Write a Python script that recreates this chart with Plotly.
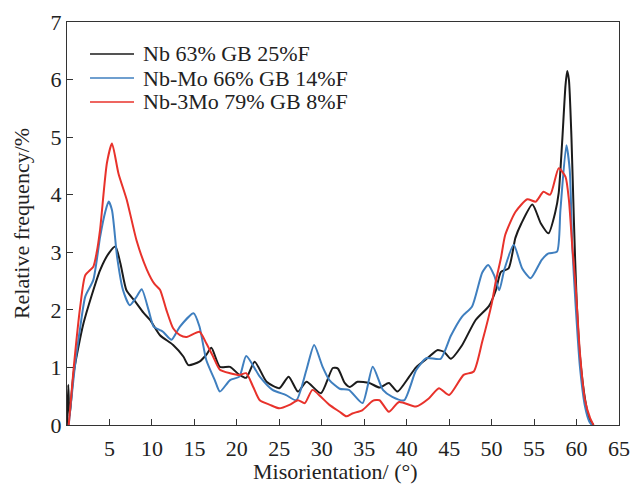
import plotly.graph_objects as go

# ---- data ----
nb_x = [0, 0.15, 0.3, 0.78, 1.95, 3.9, 5.0, 5.7, 6.3, 7.0, 8.0, 9.0, 9.8, 10.95, 12.5, 13.7, 14.3,
        15.6, 16.4, 17.0, 18.0, 19.2, 20.3, 21.1, 22.1, 23.5, 25.0, 26.1, 27.2, 28.2, 29.9, 31.3,
        31.9, 32.7, 33.3, 34.2, 35.6, 36.8, 37.9, 38.9, 40.3, 41.1, 42.6, 43.6, 44.4, 45.2, 46.5,
        48.1, 49.7, 50.5, 51.1, 52.0, 52.8, 53.5, 54.8, 55.8, 56.7, 57.5, 57.9, 58.3, 58.7, 58.9,
        59.1, 59.4, 59.7, 60.0, 60.4, 61.0, 61.5, 62.0]
nb_y = [0, 0.7, 0.15, 0.9, 1.77, 2.69, 3.0, 3.1, 2.8, 2.34, 2.15, 1.95, 1.82, 1.56, 1.39, 1.19, 1.04,
        1.10, 1.22, 1.34, 1.01, 1.01, 0.87, 0.82, 1.10, 0.75, 0.64, 0.84, 0.58, 0.75, 0.55, 0.99,
        0.98, 0.73, 0.66, 0.75, 0.73, 0.65, 0.73, 0.58, 0.84, 1.0, 1.18, 1.30, 1.27, 1.15, 1.38,
        1.82, 2.07, 2.34, 2.66, 2.72, 3.25, 3.5, 3.83, 3.5, 3.33, 3.7, 4.03, 4.9, 5.9, 6.15,
        6.0, 5.0, 3.5, 2.2, 1.2, 0.45, 0.1, 0]

nbmo_x = [0.2, 0.97, 1.56, 2.15, 3.1, 3.9, 4.5, 4.9, 5.3, 5.9, 6.6, 7.4, 8.2, 8.8, 9.6, 10.2, 10.95,
          11.3, 12.3, 13.3, 14.9, 15.6, 16.4, 17.4, 18.0, 19.2, 20.3, 21.1, 22.7, 24.2, 25.8, 27.0,
          28.2, 29.1, 30.1, 30.9, 32.1, 33.2, 34.8, 36.0, 37.2, 38.3, 39.7, 41.1, 42.3, 44.0, 45.2,
          46.5, 47.7, 48.9, 49.6, 50.3, 50.9, 51.5, 52.6, 53.6, 54.6, 55.9, 56.7, 57.7, 58.1, 58.8,
          59.2, 59.5, 59.9, 60.4, 61.0, 61.5, 61.8]
nbmo_y = [0, 1.07, 1.7, 2.23, 2.52, 3.27, 3.7, 3.88, 3.73, 2.92, 2.34, 2.08, 2.23, 2.36, 2.0, 1.71, 1.65,
          1.62, 1.48, 1.71, 1.94, 1.71, 1.13, 0.78, 0.58, 0.78, 0.84, 1.2, 0.84, 0.61, 0.52, 0.43,
          0.96, 1.39, 1.01, 0.78, 0.63, 0.61, 0.38, 1.01, 0.61, 0.49, 0.43, 0.95, 1.16, 1.15, 1.55,
          1.88, 2.06, 2.65, 2.78, 2.6, 2.34, 2.7, 3.13, 2.72, 2.55, 2.87, 2.98, 3.01, 3.73, 4.86,
          4.43, 3.1, 2.06, 1.01, 0.32, 0.06, 0]

nb3mo_x = [0.2, 0.78, 1.56, 2.15, 3.1, 3.5, 3.9, 4.7, 5.3, 6.06, 7.04, 8.2, 9.4, 10.3, 10.95, 11.7,
           12.5, 13.3, 14.1, 15.6, 16.4, 17.2, 18.0, 19.2, 20.3, 21.1, 21.9, 22.7, 23.9, 25.0, 26.2,
           27.2, 28.0, 28.9, 29.9, 30.9, 32.1, 32.9, 33.6, 34.8, 36.0, 36.8, 37.9, 39.1, 41.1, 42.6,
           43.8, 45.0, 46.7, 47.9, 48.9, 50.0, 50.5, 51.1, 51.6, 52.8, 54.2, 55.2, 56.1, 56.9, 57.9,
           58.7, 59.1, 59.5, 59.9, 60.4, 61.0, 61.6, 62.0]
nb3mo_y = [0, 0.98, 2.06, 2.6, 2.75, 3.0, 3.4, 4.55, 4.89, 4.37, 3.91, 3.2, 2.7, 2.45, 2.35, 2.0,
           1.68, 1.56, 1.53, 1.62, 1.42, 1.19, 0.96, 0.90, 0.87, 0.9, 0.67, 0.43, 0.35, 0.29, 0.35,
           0.43, 0.38, 0.61, 0.49, 0.35, 0.23, 0.15, 0.2, 0.26, 0.42, 0.43, 0.23, 0.40, 0.32, 0.46,
           0.64, 0.52, 0.87, 0.93, 1.45, 2.1, 2.5, 2.9, 3.3, 3.7, 3.92, 3.88, 4.05, 4.0, 4.46,
           4.31, 3.91, 3.1, 2.4, 1.25, 0.43, 0.12, 0]

series_names = ["Nb 63% GB 25%F", "Nb-Mo 66% GB 14%F", "Nb-3Mo 79% GB 8%F"]
series_colors = ["#1b1b1b", "#3f7fbf", "#e8322b"]
x_ticks = [5, 10, 15, 20, 25, 30, 35, 40, 45, 50, 55, 60, 65]
y_ticks = [0, 1, 2, 3, 4, 5, 6, 7]
x_title = "Misorientation/ (°)"
y_title = "Relative frequency/%"

FONT = "Liberation Serif"
FS = 22

fig = go.Figure()
data = [(nb_x, nb_y), (nbmo_x, nbmo_y), (nb3mo_x, nb3mo_y)]
for (xs, ys), name, col in zip(data, series_names, series_colors):
    fig.add_trace(go.Scatter(x=xs, y=ys, mode="lines", name=name,
                             line=dict(color=col, width=2, shape="spline", smoothing=0.6),
                             showlegend=False))

# manual legend (line samples + labels)
leg_y = [0.9206, 0.861, 0.8015]
for name, col, yy in zip(series_names, series_colors, leg_y):
    fig.add_shape(type="line", xref="paper", yref="paper", x0=0.0417, x1=0.1214, y0=yy, y1=yy,
                  line=dict(color=col, width=1.5))
    fig.add_annotation(xref="paper", yref="paper", x=0.134, y=yy, text=name, showarrow=False,
                       xanchor="left", yanchor="middle",
                       font=dict(family=FONT, size=FS, color="#222"))

# x-axis title placed as annotation
fig.add_annotation(xref="paper", yref="paper", x=0.486, y=-0.115, text=x_title, showarrow=False,
                   xanchor="center", yanchor="middle",
                   font=dict(family=FONT, size=FS, color="#222"))

axis_common = dict(showline=True, linecolor="#333", linewidth=1.2, mirror=True,
                   ticks="inside", ticklen=6, tickcolor="#333", showgrid=False, zeroline=False,
                   automargin=False,
                   tickfont=dict(family=FONT, size=FS, color="#222"))

fig.update_xaxes(range=[0, 65], tickvals=x_ticks, ticktext=[str(v) for v in x_ticks],
                 ticklabelstandoff=3,
                 **axis_common)
fig.update_yaxes(range=[0, 7], tickvals=y_ticks, ticktext=[str(v) for v in y_ticks],
                 title=dict(text=y_title, font=dict(family=FONT, size=FS, color="#222"),
                            standoff=14),
                 **axis_common)

fig.update_layout(width=633, height=484, margin=dict(l=67, r=14, t=22, b=59),
                  plot_bgcolor="white", paper_bgcolor="white")

fig.write_html("out.html")
